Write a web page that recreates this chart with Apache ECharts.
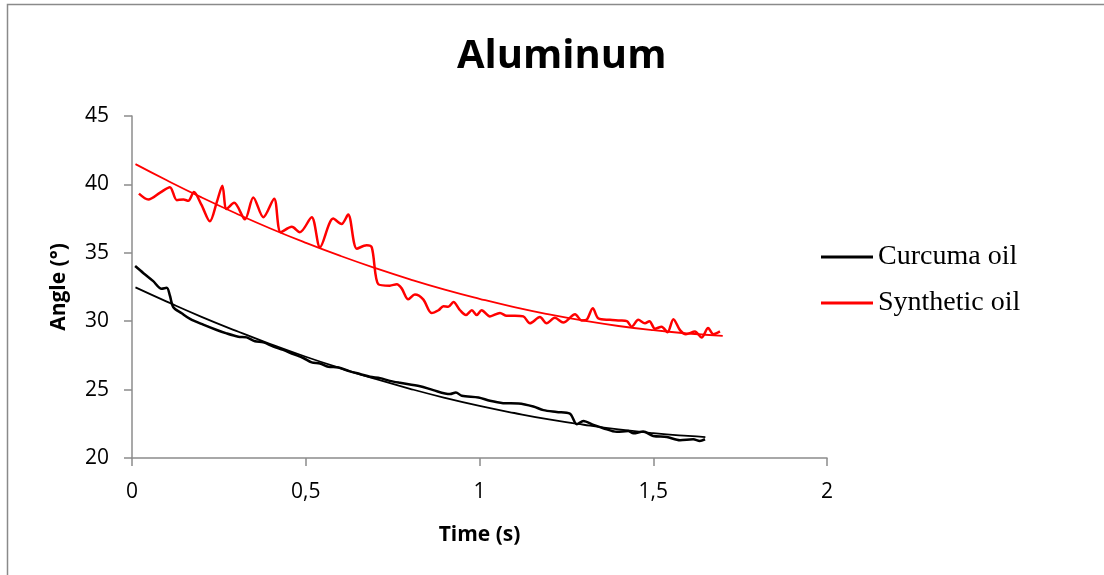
<!DOCTYPE html>
<html>
<head>
<meta charset="utf-8">
<script src="https://cdn.jsdelivr.net/npm/echarts@6/dist/echarts.min.js"></script>
<style>
html,body{margin:0;padding:0;background:#fff;}
#chart{width:1104px;height:575px;}
</style>
</head>
<body>
<div id="chart"></div>
<script>
var titleText = 'Aluminum';
var xName = 'Time (s)';
var yName = 'Angle (°)';
var seriesNames = ['Curcuma oil', 'Synthetic oil'];

var curcumaT = [0.009,0.033,0.061,0.085,0.100,0.109,0.119,0.143,0.167,0.205,0.244,0.272,0.306,0.330,0.354,0.378,0.407,0.435,0.464,0.493,0.517,0.541,0.565,0.594,0.627,0.656,0.685,0.714,0.742,0.771,0.829,0.867,0.915,0.932,0.949,0.997,1.030,1.068,1.112,1.155,1.184,1.222,1.260,1.280,1.299,1.328,1.356,1.395,1.428,1.443,1.471,1.500,1.539,1.577,1.615,1.634,1.649];
var curcumaA = [34.03,33.51,32.93,32.37,32.44,31.88,31.02,30.58,30.17,29.75,29.36,29.11,28.87,28.82,28.53,28.45,28.14,27.90,27.60,27.31,26.99,26.91,26.67,26.62,26.33,26.14,25.94,25.84,25.64,25.50,25.25,24.96,24.67,24.79,24.55,24.42,24.18,24.01,23.98,23.76,23.50,23.37,23.25,22.47,22.71,22.42,22.18,21.91,21.98,21.81,21.93,21.61,21.54,21.30,21.37,21.25,21.37];

var synthT = [0.020,0.047,0.081,0.109,0.129,0.148,0.162,0.178,0.200,0.224,0.244,0.260,0.272,0.294,0.325,0.349,0.378,0.409,0.428,0.460,0.483,0.517,0.541,0.579,0.603,0.622,0.647,0.675,0.690,0.709,0.742,0.762,0.776,0.795,0.814,0.838,0.862,0.882,0.896,0.910,0.925,0.944,0.961,0.978,0.992,1.006,1.030,1.059,1.078,1.102,1.126,1.145,1.174,1.193,1.217,1.241,1.275,1.294,1.308,1.326,1.342,1.375,1.404,1.424,1.438,1.457,1.476,1.489,1.505,1.524,1.541,1.558,1.577,1.594,1.620,1.639,1.658,1.673,1.692];
var synthA = [39.33,38.9,39.4,39.8,38.85,38.9,38.8,39.45,38.5,37.3,38.7,39.9,38.2,38.65,37.45,39.05,37.6,38.95,36.5,36.9,36.5,37.6,35.4,37.5,37.1,37.8,35.3,35.55,35.4,32.7,32.6,32.7,32.4,31.6,31.95,31.6,30.6,30.8,31.1,31.05,31.4,30.8,30.45,30.8,30.45,30.8,30.35,30.6,30.4,30.4,30.35,29.85,30.3,29.85,30.25,29.9,30.5,30.05,30.1,30.95,30.2,30.1,30.05,30.0,29.6,30.1,29.85,30.0,29.45,29.6,29.2,30.15,29.35,29.05,29.25,28.8,29.5,29.05,29.25];

var curcumaFitT = [0.01,0.1,0.2,0.3,0.4,0.5,0.6,0.7,0.8,0.9,1.0,1.1,1.2,1.3,1.4,1.5,1.6,1.65];
var curcumaFitA = [32.47,31.43,30.32,29.29,28.31,27.40,26.56,25.78,25.06,24.40,23.81,23.29,22.82,22.43,22.09,21.82,21.61,21.53];

var synthFitT = [0.01,0.1,0.2,0.3,0.4,0.5,0.6,0.7,0.8,0.9,1.0,1.1,1.2,1.3,1.4,1.5,1.6,1.7];
var synthFitA = [41.48,40.30,39.05,37.87,36.76,35.73,34.77,33.88,33.06,32.31,31.64,31.03,30.50,30.04,29.65,29.34,29.10,28.92];

var xTicks = [0, 0.5, 1, 1.5, 2];
var yTicks = [20, 25, 30, 35, 40, 45];

function zip(a, b) { return a.map(function (v, i) { return [v, b[i]]; }); }

var chart = echarts.init(document.getElementById('chart'), null, {renderer: 'canvas'});
var axisGray = '#8c8c8c';
chart.setOption({
  backgroundColor: '#fff',
  animation: false,
  title: {
    text: titleText, left: 452, top: 32,
    textStyle: {fontFamily: 'Open Sans', fontWeight: 'bold', fontSize: 40, color: '#000'}
  },
  graphic: [{
    type: 'rect', shape: {x: 7.5, y: 4.5, width: 1300, height: 1000},
    style: {fill: 'none', stroke: '#8a8a8a', lineWidth: 1.5}, silent: true, z: -1
  }],
  legend: {
    data: seriesNames, orient: 'vertical', left: 816, top: 237,
    itemWidth: 52, itemHeight: 3, itemGap: 16, icon: 'rect',
    textStyle: {fontFamily: 'Liberation Serif', fontSize: 28, color: '#000', lineHeight: 30}
  },
  grid: {left: 132, right: 277, top: 116, bottom: 117},
  xAxis: {
    type: 'value', min: xTicks[0], max: xTicks[xTicks.length - 1], interval: 0.5,
    name: xName, nameLocation: 'middle', nameGap: 67,
    nameTextStyle: {fontFamily: 'Open Sans', fontWeight: 'bold', fontSize: 21, color: '#000'},
    axisLine: {lineStyle: {color: axisGray, width: 1.5}},
    axisTick: {show: true, length: 8, lineStyle: {color: axisGray, width: 1.5}},
    splitLine: {show: false},
    axisLabel: {
      margin: 24, fontFamily: 'Open Sans', fontSize: 21, color: '#000',
      formatter: function (v) { return String(v).replace('.', ','); }
    }
  },
  yAxis: {
    type: 'value', min: yTicks[0], max: yTicks[yTicks.length - 1], interval: 5,
    name: yName, nameLocation: 'middle', nameGap: 62, nameRotate: 90,
    nameTextStyle: {fontFamily: 'Open Sans', fontWeight: 'bold', fontSize: 21, color: '#000'},
    axisLine: {show: true, lineStyle: {color: axisGray, width: 1.5}},
    axisTick: {show: true, length: 8, lineStyle: {color: axisGray, width: 1.5}},
    splitLine: {show: false},
    axisLabel: {margin: 23, fontFamily: 'Open Sans', fontSize: 21, color: '#000'}
  },
  series: [
    {name: seriesNames[0], type: 'line', data: zip(curcumaT, curcumaA), smooth: 0.3,
     symbol: 'none', color: '#000', lineStyle: {color: '#000', width: 2.5}, z: 3},
    {name: seriesNames[1], type: 'line', data: zip(synthT, synthA), smooth: 0.3,
     symbol: 'none', color: '#ff0000', lineStyle: {color: '#ff0000', width: 2.5}, z: 3},
    {name: 'Curcuma fit', type: 'line', data: zip(curcumaFitT, curcumaFitA), smooth: true,
     symbol: 'none', color: '#000', lineStyle: {color: '#000', width: 1.8}, z: 2},
    {name: 'Synthetic fit', type: 'line', data: zip(synthFitT, synthFitA), smooth: true,
     symbol: 'none', color: '#ff0000', lineStyle: {color: '#ff0000', width: 1.8}, z: 2}
  ]
});
</script>
</body>
</html>
